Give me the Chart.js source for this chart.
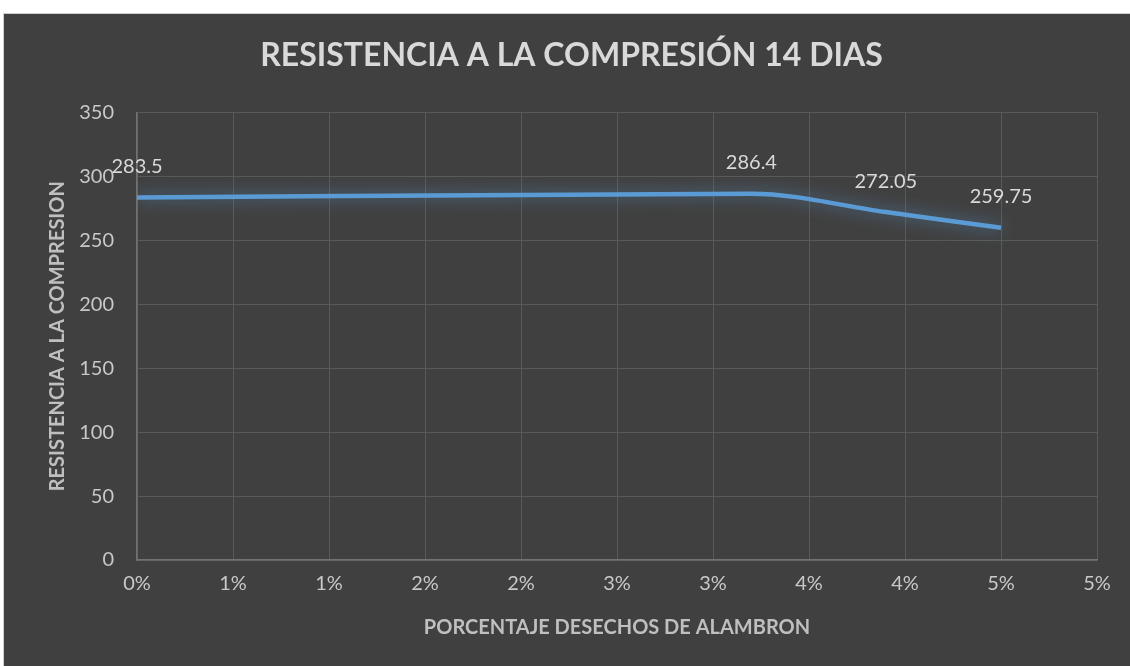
<!DOCTYPE html>
<html>
<head>
<meta charset="utf-8">
<script src="https://cdn.jsdelivr.net/npm/chart.js@4.4.1/dist/chart.umd.min.js"></script>
<style>
  html, body { margin: 0; background: #fff; }
  .frame { position: absolute; left: 3px; top: 13px; width: 1127px; height: 653px; background: #404040; border-left: 1px solid #d0d0d0; border-top: 1px solid #d0d0d0; }
  canvas { display: block; }
</style>
</head>
<body>
<div class="frame"><canvas id="chart" width="1126" height="652"></canvas></div>
<script>
// % of wire-rod waste vs compressive strength at 14 days
const porcentaje = [0, 3.2, 3.9, 4.5];
const resistencia = [283.5, 286.4, 272.05, 259.75];
const yTicks = [0, 50, 100, 150, 200, 250, 300, 350];

const FONT = "Lato, 'Open Sans', sans-serif";

// soft blue glow under the line, like the Excel effect
const glowPlugin = {
  id: 'glow',
  beforeDatasetDraw(chart) {
    const ctx = chart.ctx;
    ctx.save();
    ctx.shadowColor = 'rgba(91,155,213,0.7)';
    ctx.shadowBlur = 16;
  },
  afterDatasetDraw(chart) {
    chart.ctx.restore();
  }
};

// value labels above each point
const labelPlugin = {
  id: 'valueLabels',
  afterDatasetsDraw(chart) {
    const ctx = chart.ctx;
    const meta = chart.getDatasetMeta(0);
    ctx.save();
    ctx.font = '20px ' + FONT;
    ctx.fillStyle = '#d9d9d9';
    ctx.textAlign = 'center';
    ctx.textBaseline = 'middle';
    meta.data.forEach((pt, i) => {
      ctx.fillText(String(resistencia[i]), pt.x, pt.y - 31);
    });
    ctx.restore();
  }
};

new Chart(document.getElementById('chart'), {
  type: 'scatter',
  data: {
    datasets: [{
      data: porcentaje.map((x, i) => ({ x: x, y: resistencia[i] })),
      showLine: true,
      borderColor: '#5b9bd5',
      borderWidth: 4.5,
      pointRadius: 0,
      cubicInterpolationMode: 'monotone',
      fill: false,
    }]
  },
  options: {
    responsive: false,
    devicePixelRatio: 1,
    animation: false,
    layout: { padding: { left: 42, right: 33, top: 0, bottom: 26 } },
    plugins: {
      legend: { display: false },
      tooltip: { enabled: false },
      title: {
        display: true,
        text: 'RESISTENCIA A LA COMPRESIÓN 14 DIAS',
        color: '#d9d9d9',
        font: { family: FONT, size: 32, weight: 'bold' },
        padding: { top: 22, bottom: 38 },
      },
    },
    scales: {
      x: {
        type: 'linear',
        min: 0,
        max: 5,
        ticks: {
          stepSize: 0.5,
          color: '#c8c8c8',
          font: { family: FONT, size: 20 },
          padding: 12,
          callback: v => Math.round(v) + '%',
        },
        grid: { color: '#595959', drawTicks: false },
        border: { color: '#727272', width: 1.5 },
        title: {
          display: true,
          text: 'PORCENTAJE DESECHOS DE ALAMBRON',
          color: '#bfbfbf',
          font: { family: FONT, size: 20, weight: 'bold' },
          padding: 0,
        },
        afterFit: s => { s.height = 80; },
      },
      y: {
        min: 0,
        max: 350,
        afterBuildTicks: s => { s.ticks = yTicks.map(v => ({ value: v })); },
        ticks: {
          color: '#c8c8c8',
          font: { family: FONT, size: 20 },
          padding: 23,
        },
        grid: { color: '#595959', drawTicks: false },
        border: { color: '#727272', width: 1.5 },
        title: {
          display: true,
          text: 'RESISTENCIA A LA COMPRESION',
          color: '#bfbfbf',
          font: { family: FONT, size: 20, weight: 'bold' },
          padding: 0,
        },
        afterFit: s => { s.width = 91; },
      },
    },
  },
  plugins: [glowPlugin, labelPlugin],
});
</script>
</body>
</html>
